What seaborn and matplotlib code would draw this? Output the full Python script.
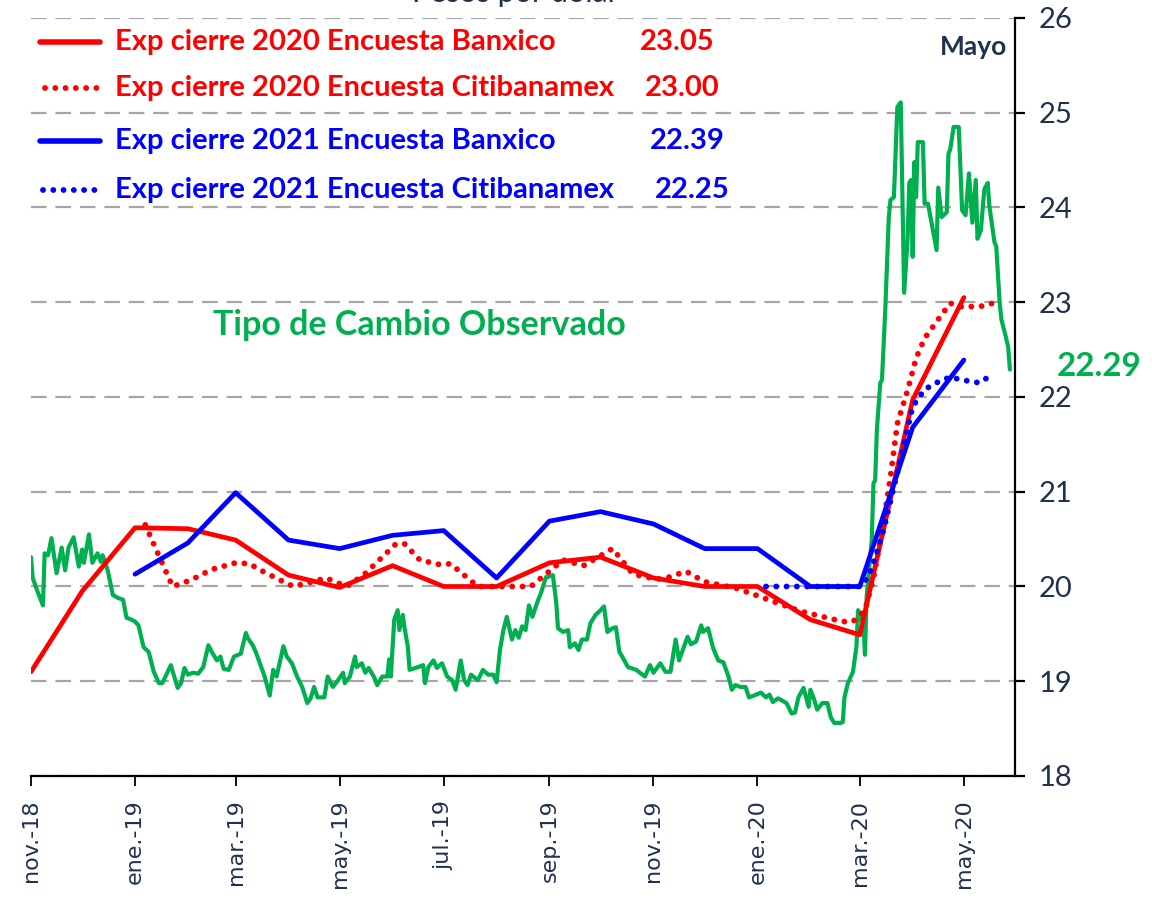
import matplotlib
matplotlib.use("Agg")
import matplotlib.pyplot as plt
from matplotlib.lines import Line2D
import pandas as pd
import seaborn as sns

# ---------------- data ----------------
START = pd.Timestamp("2018-11-01")

# Observed exchange rate (pesos per dollar), days counted from 2018-11-01
fx_day = [0, 1, 4, 7, 8, 10, 12, 15, 18, 20, 22, 25, 28, 30, 31, 34, 36, 39, 41, 42,
          45, 48, 51, 54, 56, 59, 61, 63, 66, 69, 72, 75, 77, 82, 86, 88, 90, 92, 95, 98,
          101, 104, 106, 109, 111, 113, 116, 119, 123, 126, 127, 130, 132, 137, 140, 142,
          144, 148, 150, 153, 156, 159, 162, 164, 166, 168, 172, 174, 177, 180, 183, 184,
          187, 190, 191, 194, 196, 198, 201, 203, 206, 209, 210, 211, 213, 215, 216, 218,
          219, 221, 222, 227, 230, 231, 233, 236, 238, 241, 244, 247, 249, 252, 254, 256,
          258, 262, 265, 268, 271, 273, 275, 277, 279, 282, 284, 286, 288, 290, 292, 294,
          297, 299, 302, 303, 306, 308, 309, 312, 315, 316, 319, 321, 323, 326, 328, 331,
          334, 336, 338, 341, 343, 345, 347, 350, 355, 357, 360, 363, 365, 369, 372, 375,
          378, 380, 385, 387, 390, 393, 394, 397, 400, 403, 406, 409, 411, 413, 416, 419,
          421, 424, 428, 431, 433, 435, 438, 440, 443, 446, 448, 450, 453, 456, 457, 459,
          461, 464, 467, 469, 471, 475, 476, 477, 479, 482, 484, 485, 486, 488, 489, 490,
          491, 493, 494, 495, 496, 498, 499, 501, 503, 504, 506, 508, 510, 512, 514, 515,
          516, 517, 518, 519, 520, 523, 524, 526, 531, 532, 534, 537, 538, 539, 541, 544,
          546, 548, 550, 552, 554, 555, 557, 559, 561, 562, 565, 566, 568, 569, 571, 573, 574]
fx_value = [20.31, 20.09, 19.94, 19.80, 20.35, 20.33, 20.51, 20.14, 20.41, 20.17, 20.41, 20.52,
            20.21, 20.39, 20.25, 20.55, 20.25, 20.35, 20.26, 20.33, 20.17, 19.91, 19.88, 19.86,
            19.67, 19.65, 19.63, 19.59, 19.36, 19.31, 19.10, 18.98, 18.98, 19.17, 18.93, 18.98,
            19.14, 19.07, 19.09, 19.08, 19.15, 19.38, 19.31, 19.22, 19.26, 19.13, 19.12, 19.26,
            19.29, 19.51, 19.46, 19.38, 19.30, 19.05, 18.85, 19.12, 19.05, 19.37, 19.26, 19.19,
            19.05, 18.94, 18.77, 18.82, 18.94, 18.83, 18.83, 19.05, 18.94, 19.01, 19.09, 18.98,
            19.05, 19.26, 19.15, 19.19, 19.09, 19.14, 19.05, 18.96, 19.05, 19.05, 19.23, 19.05,
            19.65, 19.75, 19.54, 19.70, 19.57, 19.36, 19.12, 19.15, 19.17, 18.98, 19.15, 19.22,
            19.14, 19.19, 19.05, 19.01, 18.91, 19.22, 19.01, 18.96, 19.07, 19.01, 19.12, 19.07,
            19.07, 18.99, 19.33, 19.54, 19.68, 19.44, 19.54, 19.46, 19.58, 19.54, 19.80, 19.68,
            19.84, 19.93, 20.10, 20.10, 20.12, 19.83, 19.56, 19.52, 19.54, 19.36, 19.40, 19.33,
            19.44, 19.44, 19.61, 19.70, 19.75, 19.79, 19.52, 19.56, 19.57, 19.31, 19.25, 19.15,
            19.12, 19.09, 19.05, 19.17, 19.09, 19.19, 19.10, 19.10, 19.44, 19.22, 19.47, 19.39,
            19.42, 19.59, 19.52, 19.56, 19.35, 19.22, 19.20, 19.05, 18.91, 18.96, 18.94, 18.94,
            18.83, 18.85, 18.88, 18.83, 18.86, 18.78, 18.82, 18.80, 18.77, 18.66, 18.67, 18.83,
            18.93, 18.73, 18.91, 18.82, 18.70, 18.77, 18.77, 18.62, 18.56, 18.56, 18.57, 18.83,
            18.98, 19.10, 19.36, 19.75, 19.65, 19.68, 19.28, 19.89, 20.10, 20.49, 21.09, 21.12,
            21.65, 22.15, 22.18, 22.95, 23.90, 24.08, 24.11, 25.06, 25.11, 23.10, 23.66, 24.26,
            24.29, 23.48, 24.48, 24.11, 24.69, 24.69, 24.04, 24.04, 23.55, 24.21, 23.90, 23.95,
            24.57, 24.61, 24.85, 24.85, 23.97, 23.92, 24.36, 23.84, 24.29, 23.67, 23.76, 24.19,
            24.26, 24.01, 23.63, 23.59, 23.00, 22.82, 22.68, 22.53, 22.29]

# Banxico survey, monthly
banxico_2020_months = pd.date_range("2018-11-01", "2020-05-01", freq="MS")
banxico_2020 = [19.10, 19.95, 20.62, 20.61, 20.49, 20.12, 19.99, 20.22, 20.00, 20.00,
                20.25, 20.31, 20.09, 20.00, 20.00, 19.65, 19.49, 21.97, 23.05]
banxico_2021_months = pd.date_range("2019-01-01", "2020-05-01", freq="MS")
banxico_2021 = [20.13, 20.46, 20.99, 20.49, 20.40, 20.54, 20.59, 20.09, 20.69, 20.79,
                20.66, 20.40, 20.40, 20.00, 20.00, 21.68, 22.39]

# Citibanamex survey, biweekly
citi_2020_dates = ["2019-01-07", "2019-01-23", "2019-02-03", "2019-02-15", "2019-03-01",
                   "2019-03-09", "2019-03-18", "2019-03-29", "2019-04-04", "2019-04-17",
                   "2019-04-23", "2019-05-05", "2019-05-15", "2019-06-03", "2019-06-08",
                   "2019-06-17", "2019-06-29", "2019-07-05", "2019-07-21", "2019-08-21",
                   "2019-09-09", "2019-09-21", "2019-10-08", "2019-10-20", "2019-11-02",
                   "2019-11-07", "2019-11-20", "2019-12-01", "2019-12-20", "2020-01-26",
                   "2020-02-20", "2020-02-26", "2020-03-04", "2020-03-09", "2020-03-14",
                   "2020-03-19", "2020-03-23", "2020-03-29", "2020-04-03", "2020-04-08",
                   "2020-04-16", "2020-04-23", "2020-04-30", "2020-05-12", "2020-05-20"]
citi_2020 = [20.65, 20.00, 20.07, 20.18, 20.25, 20.24, 20.15, 20.05, 20.00, 20.06,
             20.09, 20.00, 20.12, 20.45, 20.45, 20.28, 20.23, 20.24, 20.00, 20.00,
             20.28, 20.22, 20.40, 20.13, 20.08, 20.08, 20.16, 20.05, 19.98, 19.74,
             19.63, 19.63, 19.75, 20.09, 20.58, 21.16, 21.72, 22.07, 22.41, 22.62,
             22.82, 22.99, 22.95, 22.96, 23.00]
citi_2021_dates = ["2020-01-06", "2020-03-01", "2020-03-06", "2020-03-10", "2020-03-15",
                   "2020-03-20", "2020-03-25", "2020-04-01", "2020-04-08", "2020-04-16",
                   "2020-04-23", "2020-04-30", "2020-05-10", "2020-05-19"]
citi_2021 = [20.00, 20.00, 20.10, 20.30, 20.60, 20.98, 21.35, 21.90, 22.08, 22.16,
             22.21, 22.18, 22.15, 22.25]

legend_labels = ["Exp cierre 2020 Encuesta Banxico", "Exp cierre 2020 Encuesta Citibanamex",
                 "Exp cierre 2021 Encuesta Banxico", "Exp cierre 2021 Encuesta Citibanamex"]
legend_values = ["23.05", "23.00", "22.39", "22.25"]

tick_dates = pd.date_range("2018-11-01", "2020-05-01", freq="2MS")
tick_labels = ["nov.-18", "ene.-19", "mar.-19", "may.-19", "jul.-19", "sep.-19",
               "nov.-19", "ene.-20", "mar.-20", "may.-20"]

# ---------------- style ----------------
RED = "#FF0000"
BLUE = "#0000FF"
GREEN = "#00B050"
NAVY = "#1F3050"
GRID = "#A6A6A6"

sns.set_theme(style="white")
plt.rcParams["font.family"] = ["Lato", "DejaVu Sans"]

W, H = 1152, 901
fig = plt.figure(figsize=(W / 100, H / 100), dpi=100)
ax = fig.add_axes([31 / W, 1 - 776 / H, (1015 - 31) / W, (776 - 18) / H])

fx = pd.DataFrame({"fecha": START + pd.to_timedelta(fx_day, unit="D"), "tc": fx_value})
b20 = pd.DataFrame({"fecha": banxico_2020_months, "v": banxico_2020})
b21 = pd.DataFrame({"fecha": banxico_2021_months, "v": banxico_2021})
c20 = pd.DataFrame({"fecha": pd.to_datetime(citi_2020_dates), "v": citi_2020})
c21 = pd.DataFrame({"fecha": pd.to_datetime(citi_2021_dates), "v": citi_2021})

SOLID_LW = 3.4
DOT_LW = 4.2
DOTS = (0, (0.01, 1.75))

sns.lineplot(data=fx, x="fecha", y="tc", ax=ax, color=GREEN, lw=3.0,
             estimator=None, sort=False, zorder=3)
sns.lineplot(data=b20, x="fecha", y="v", ax=ax, color=RED, lw=SOLID_LW,
             estimator=None, sort=False, zorder=4)
sns.lineplot(data=c20, x="fecha", y="v", ax=ax, color=RED, lw=DOT_LW, linestyle=DOTS,
             dash_capstyle="round", estimator=None, sort=False, zorder=4)
sns.lineplot(data=b21, x="fecha", y="v", ax=ax, color=BLUE, lw=SOLID_LW,
             estimator=None, sort=False, zorder=5)
sns.lineplot(data=c21, x="fecha", y="v", ax=ax, color=BLUE, lw=DOT_LW, linestyle=DOTS,
             dash_capstyle="round", estimator=None, sort=False, zorder=5)

# axes
ax.set_xlim(pd.Timestamp("2018-11-01"), pd.Timestamp("2020-05-31"))
ax.set_ylim(18, 26)
ax.set_xlabel("")
ax.set_ylabel("")
ax.set_yticks(range(18, 27))
ax.set_xticks(tick_dates)
ax.set_xticklabels(tick_labels, rotation=90, family="DejaVu Sans", fontsize=16,
                   color=NAVY, va="top", ha="center")
ax.yaxis.tick_right()
ax.tick_params(axis="y", right=True, left=False, direction="out", length=7, width=1.6,
               color="black", labelcolor=NAVY, labelsize=21, pad=10)
ax.tick_params(axis="x", bottom=True, direction="out", length=7, width=1.3,
               color="black", pad=10)
for side in ("left", "top"):
    ax.spines[side].set_visible(False)
for side in ("right", "bottom"):
    ax.spines[side].set_visible(True)
    ax.spines[side].set_color("black")
    ax.spines[side].set_linewidth(1.6)

ax.yaxis.grid(True, color=GRID, linestyle=(0, (7, 4)), lw=1.6)
ax.xaxis.grid(False)
ax.set_axisbelow(True)

# ---------------- texts ----------------
def fx_(x):
    return x / W


def fy_(y):
    return 1 - y / H


# chart title, sitting at the very top edge of the canvas
fig.text(fx_(515), fy_(2), "Pesos por dólar", ha="center", va="baseline",
         fontsize=22, color=NAVY)

rows_y = [42, 88, 141, 190]
colors = [RED, RED, BLUE, BLUE]
styles = ["-", DOTS, "-", DOTS]
starts = [40, 45, 40, 43]
value_x = [640, 645, 650, 655]
for y, c, ls, x0, lab, val, vx in zip(rows_y, colors, styles, starts,
                                        legend_labels, legend_values, value_x):
    lw = SOLID_LW + 0.6 if ls == "-" else DOT_LW
    fig.add_artist(Line2D([fx_(x0), fx_(100)], [fy_(y), fy_(y)], transform=fig.transFigure,
                          color=c, lw=lw, linestyle=ls, dash_capstyle="round"))
    fig.text(fx_(115), fy_(y), lab, color=c, fontsize=21, fontweight="bold",
             ha="left", va="center")
    fig.text(fx_(vx), fy_(y), val, color=c, fontsize=21, fontweight="bold",
             ha="left", va="center")

fig.text(fx_(940), fy_(47), "Mayo", color=NAVY, fontsize=19, fontweight="bold",
         ha="left", va="center")
fig.text(fx_(213), fy_(325), "Tipo de Cambio Observado", color=GREEN, fontsize=24.5,
         fontweight="bold", ha="left", va="center")
fig.text(fx_(1057), fy_(366), "22.29", color=GREEN, fontsize=24, fontweight="bold",
         ha="left", va="center")

fig.savefig("out.png", dpi=100)
